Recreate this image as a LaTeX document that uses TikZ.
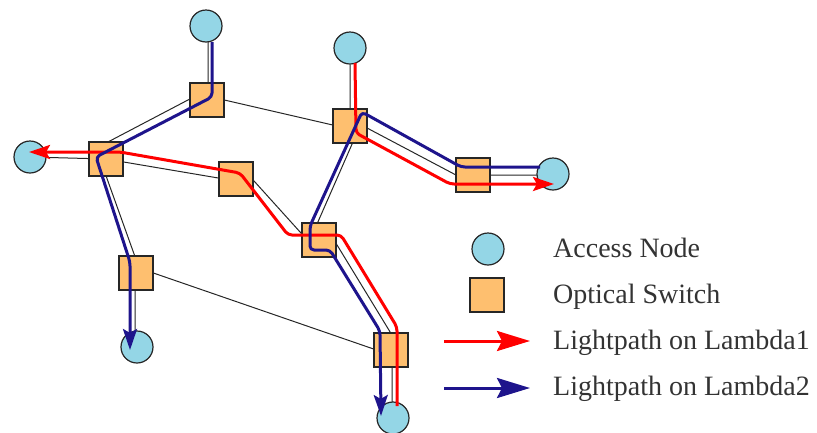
\documentclass[tikz,border=0pt]{standalone}
\usepackage{fontspec}
\setmainfont{Liberation Serif}
\newfontfamily\legendfont{Liberation Serif}
\usetikzlibrary{arrows.meta,calc,backgrounds}
\definecolor{accessblue}{RGB}{148,214,230}
\definecolor{switchorange}{RGB}{254,191,111}
\definecolor{lambdared}{RGB}{255,0,0}
\definecolor{lambdablue}{RGB}{30,20,140}
\begin{document}
\begin{tikzpicture}[x=1pt,y=-1pt,
  access/.style={circle,draw=black!85,line width=1.2pt,fill=accessblue,minimum size=32pt,inner sep=0pt},
  switchbox/.style={rectangle,draw=black!85,line width=1.2pt,fill=switchorange,minimum size=34pt,inner sep=0pt},
  link/.style={draw=black!85,line width=1pt},
  lightpath/.style={line width=3pt,rounded corners=4pt,line join=round},
  lambdaone/.style={lightpath,draw=lambdared,-{Stealth[length=21pt,width=14pt,inset=4pt]}},
  lambdatwo/.style={lightpath,draw=lambdablue,-{Stealth[length=21pt,width=14pt,inset=4pt]}},
  legendtext/.style={anchor=base west,text=black!80,font=\legendfont\fontsize{28}{32}\selectfont,inner sep=0pt}]
\useasboundingbox (0,0) rectangle (817,432);

% access nodes and optical switches
\node[access] (A1) at (206,26) {};
\node[access] (A2) at (350,48) {};
\node[access] (A3) at (30,157) {};
\node[access] (A4) at (553,174) {};
\node[access] (A5) at (137,347) {};
\node[access] (A6) at (393,418) {};
\node[switchbox] (S1) at (207,100) {};
\node[switchbox] (S2) at (106,159) {};
\node[switchbox] (S3) at (236,179) {};
\node[switchbox] (S4) at (350,126) {};
\node[switchbox] (S5) at (473,175) {};
\node[switchbox] (S6) at (319,240) {};
\node[switchbox] (S7) at (136,273) {};
\node[switchbox] (S8) at (391,350) {};

% fibre links, kept behind the nodes
\begin{scope}[on background layer]
\path[link]
  ($(A1)+(2,0)$) -- ($(S1)+(1,0)$)
  ($(S1)+(0,-10)$) -- ($(S2)+(0,-16)$)
  ($(S1)+(0,-4)$) -- ($(S4)+(0,3)$)
  (A3) -- (S2)
  (S2) -- ($(S3)+(0,2)$)
  ($(S3)+(9,-8)$) -- ($(S6)+(-9,3)$)
  ($(S2)+(-6,0)$) -- ($(S7)+(2,-8)$)
  ($(S7)+(-1,0)$) -- ($(A5)+(-2,0)$)
  ($(S7)+(0,-6)$) -- ($(S8)+(0,5)$)
  (A2) -- (S4)
  ($(S4)+(0,-7)$) -- ($(S5)+(0,9)$)
  (S5) -- ($(A4)+(0,1)$)
  ($(S4)+(10,0)$) -- ($(S6)+(-9,0)$)
  ($(S6)+(15,0)$) -- ($(S8)+(4,-10)$)
  ($(S8)+(1,0)$) -- ($(A6)+(-1,0)$);
\end{scope}

% lightpaths on Lambda1
\draw[lambdaone] ($(A2)+(5,15)$) -- ($(S4)+(6,7)$) -- ($(S5)+(-23,9)$) -- ($(A4)+(1,10)$);
\draw[lambdaone] ($(A6)+(4,-12)$) -- ($(S8)+(6,-23)$) -- ($(S6)+(22,-5)$) -- ($(S6)+(-31,-5)$)
  -- ($(S3)+(4,-6)$) -- ($(S2)+(14,-7)$) -- ($(A3)+(-1,-5)$);

% lightpaths on Lambda2
\draw[lambdatwo] ($(A1)+(6,16)$) -- ($(S1)+(5,-3)$) -- ($(S2)+(-10,-2)$) -- ($(S7)+(-6,-11)$) -- ($(A5)+(-7,3)$);
\draw[lambdatwo] ($(A4)+(-13,-7)$) -- ($(S5)+(-12,-8)$) -- ($(S4)+(12,-14)$) -- ($(S6)+(-9,-14)$)
  -- ($(S6)+(-9,10)$) -- ($(S6)+(11,10)$) -- ($(S8)+(-11,-19)$) -- ($(A6)+(-12,-2)$);

% legend
\node[access] (LA) at (488,249) {};
\node[switchbox] (LS) at (487,295) {};
\coordinate (L1s) at (444,341);
\coordinate (L1e) at (530,341);
\coordinate (L2s) at (444,388);
\coordinate (L2e) at (530,388);
\draw[line width=3pt,draw=lambdared,-{Stealth[length=33pt,width=20pt,inset=5pt]}] (L1s) -- (L1e);
\draw[line width=3pt,draw=lambdablue,-{Stealth[length=33pt,width=20pt,inset=5pt]}] (L2s) -- (L2e);
\node[legendtext] (TA) at (553,257) {Access Node};
\node[legendtext] (TS) at (553,303) {Optical Switch};
\node[legendtext] (T1) at (553,349) {Lightpath on Lambda1};
\node[legendtext] (T2) at (553,395) {Lightpath on Lambda2};
\end{tikzpicture}
\end{document}
